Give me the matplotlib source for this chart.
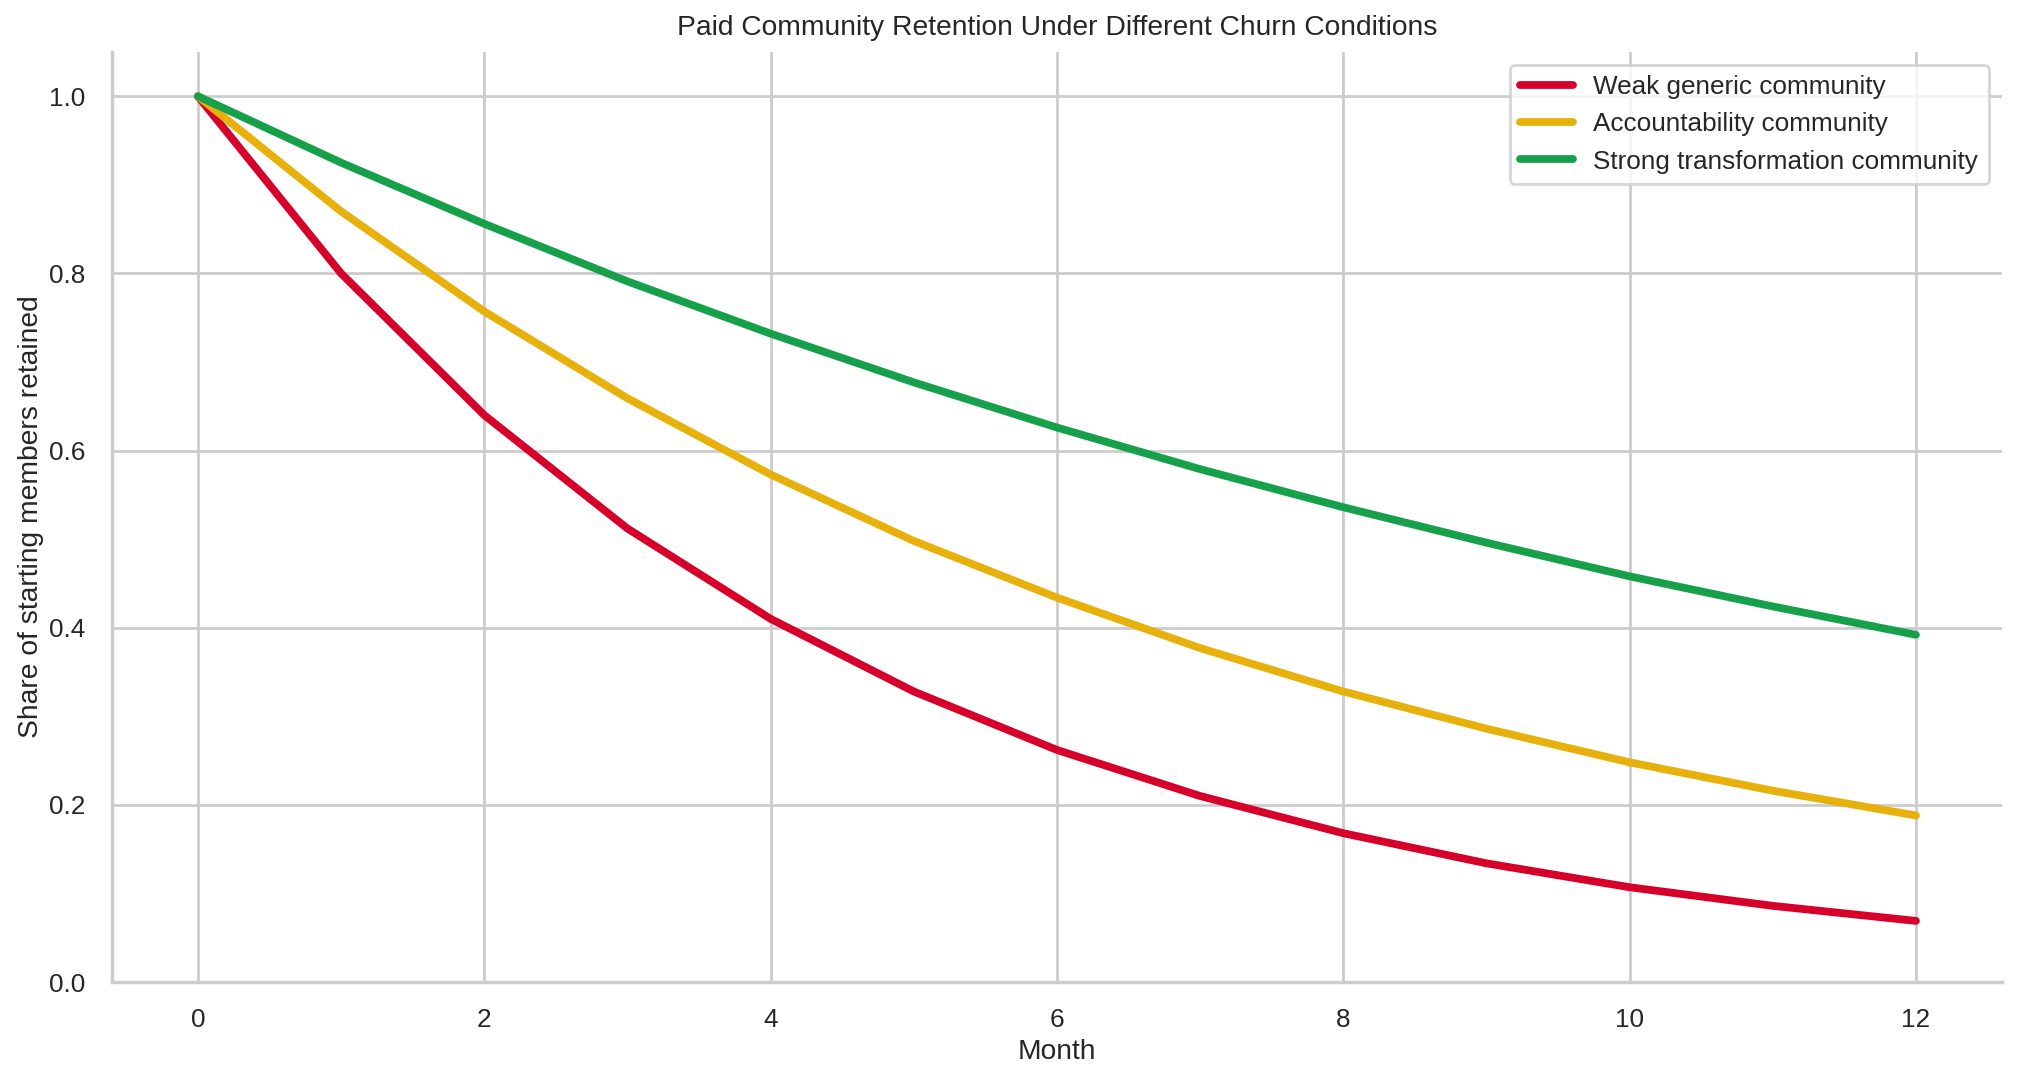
import matplotlib
matplotlib.use("Agg")
import matplotlib.pyplot as plt
import seaborn as sns

# retention values
months = [0, 1, 2, 3, 4, 5, 6, 7, 8, 9, 10, 11, 12]
weak = [1.0, 0.80, 0.64, 0.512, 0.41, 0.328, 0.262, 0.21, 0.168, 0.134, 0.107, 0.086, 0.069]
accountability = [1.0, 0.87, 0.757, 0.659, 0.573, 0.498, 0.434, 0.377, 0.328, 0.286, 0.248, 0.216, 0.188]
strong = [1.0, 0.925, 0.856, 0.791, 0.732, 0.677, 0.626, 0.579, 0.536, 0.496, 0.458, 0.424, 0.392]

series_names = ["Weak generic community", "Accountability community", "Strong transformation community"]
series_colors = ["#d7002a", "#e8b00a", "#17a04a"]

sns.set_theme(style="whitegrid")
plt.rcParams["font.family"] = ["Liberation Sans", "DejaVu Sans"]

fig = plt.figure(figsize=(2018 / 200, 1082 / 200), dpi=200)
ax = fig.add_axes([0.0555, 0.0924, 0.9365, 0.8596])

for vals, name, col in zip([weak, accountability, strong], series_names, series_colors):
    ax.plot(months, vals, color=col, linewidth=2.8, label=name)

ax.set_ylim(0, 1.05)
ax.set_title("Paid Community Retention Under Different Churn Conditions", fontsize=10.2)
ax.set_xlabel("Month", fontsize=10.2, labelpad=2.5)
ax.set_ylabel("Share of starting members retained", fontsize=10.2, labelpad=2)
ax.tick_params(labelsize=9.4)
ax.legend(loc="upper right", fontsize=9.4)
sns.despine(ax=ax)

fig.savefig("out.png", dpi=200)
